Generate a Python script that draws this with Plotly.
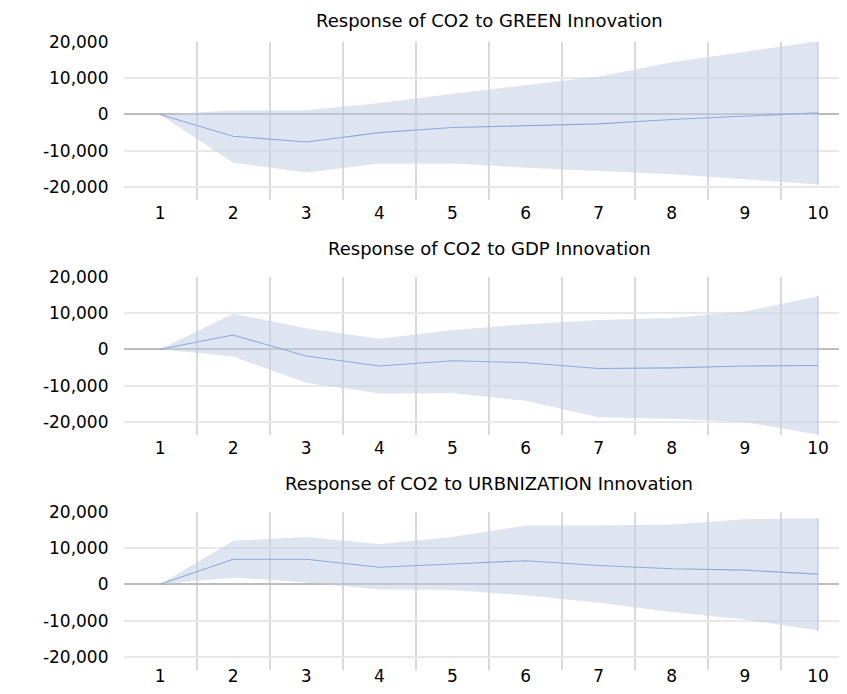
import plotly.graph_objects as go

periods = [1, 2, 3, 4, 5, 6, 7, 8, 9, 10]

titles = [
    "Response of CO2 to GREEN Innovation",
    "Response of CO2 to GDP Innovation",
    "Response of CO2 to URBNIZATION Innovation",
]

green_resp = [0, -6000, -7600, -5000, -3600, -3200, -2600, -1400, -450, 470]
green_upper = [0, 1100, 1200, 3200, 5700, 8000, 10500, 14400, 17400, 20200]
green_lower = [0, -13300, -16000, -13500, -13500, -14700, -15600, -16500, -17900, -19300]

gdp_resp = [0, 3950, -1860, -4600, -3150, -3700, -5300, -5100, -4600, -4450]
gdp_upper = [0, 9800, 5800, 2900, 5300, 6900, 8100, 8600, 10400, 14600]
gdp_lower = [0, -2000, -9200, -12200, -12000, -14200, -18700, -19100, -20000, -23500]

urb_resp = [0, 6900, 6900, 4700, 5600, 6500, 5200, 4300, 3900, 2800]
urb_upper = [0, 12000, 13000, 11100, 13000, 16200, 16200, 16500, 17900, 18200]
urb_lower = [0, 1900, 500, -1400, -1600, -3000, -5100, -7600, -9700, -12700]

y_tickvals = [-20000, -10000, 0, 10000, 20000]
y_ticktext = ["-20,000", "-10,000", "0", "10,000", "20,000"]

series = [
    (green_resp, green_upper, green_lower),
    (gdp_resp, gdp_upper, gdp_lower),
    (urb_resp, urb_upper, urb_lower),
]

# page body has an 8px margin: figure drawn at (8, 8) inside the 847x694 window
OFF = 8
W, H = 847 - 2 * OFF, 694 - 2 * OFF
# screen pixel extents (top, bottom) of each plot area
panels_px = [(42, 200), (276.7, 435), (511.7, 670)]
title_px = [15, 248.5, 483.5]
xlabel_standoff = [1, 1, -6]
x_left_px = 123.5
x_unit_px = 73.1
TITLE_SIZE = 18

FILL = "rgba(196,206,230,0.55)"
EDGE = "rgba(160,184,228,0.6)"
LINE = "#8eaadb"
FONT = "DejaVu Sans"

fig = go.Figure()
layout = dict(
    width=W, height=H,
    margin=dict(l=0, r=0, t=0, b=0, autoexpand=False),
    paper_bgcolor="white", plot_bgcolor="white",
    showlegend=False,
    font=dict(family=FONT, color="#000000"),
    annotations=[],
)

x_hi = 0.5 + (W + OFF - x_left_px) / x_unit_px

for i, ((resp, up, lo), title) in enumerate(zip(series, titles)):
    n = "" if i == 0 else str(i + 1)
    xa, ya = "x" + n, "y" + n
    fig.add_trace(go.Scatter(x=periods, y=lo, mode="lines", line=dict(width=0, color=FILL),
                             xaxis=xa, yaxis=ya, hoverinfo="skip"))
    fig.add_trace(go.Scatter(x=periods, y=up, mode="lines", line=dict(width=0, color=FILL),
                             fill="tonexty", fillcolor=FILL, xaxis=xa, yaxis=ya, hoverinfo="skip"))
    # right edge of the band at the last period
    fig.add_trace(go.Scatter(x=[periods[-1], periods[-1]], y=[lo[-1], up[-1]], mode="lines",
                             line=dict(width=1.5, color=EDGE), xaxis=xa, yaxis=ya, hoverinfo="skip"))
    fig.add_trace(go.Scatter(x=periods, y=resp, mode="lines", line=dict(width=1.1, color=LINE),
                             xaxis=xa, yaxis=ya))
    top, bot = panels_px[i]
    top, bot = top - OFF, bot - OFF
    dom = [(H - bot) / H, (H - top) / H]
    layout["xaxis" + n] = dict(
        domain=[(x_left_px - OFF) / W, 1.0],
        range=[0.5, x_hi],
        anchor=ya,
        tickvals=periods,
        ticktext=[str(p) for p in periods],
        showgrid=False, zeroline=False, showline=False, ticks="",
        tickfont=dict(size=17, family=FONT, color="#000000"),
        ticklabelstandoff=xlabel_standoff[i],
        minor=dict(tickvals=[p + 0.5 for p in periods[:-1]], showgrid=True,
                   gridcolor="#d9d9d9", gridwidth=2, ticks=""),
    )
    layout["yaxis" + n] = dict(
        domain=dom,
        range=[-23600, 20000],
        anchor=xa,
        tickvals=y_tickvals, ticktext=y_ticktext,
        showgrid=True, gridcolor="#e8e8e8", gridwidth=1.5,
        zeroline=True, zerolinecolor="#bcbcbc", zerolinewidth=1.5,
        showline=False, ticks="",
        tickfont=dict(size=17, family=FONT, color="#000000"),
        ticklabelstandoff=14,
    )
    if i == 0:
        ty, tanchor = 1.0, "top"
    else:
        ty, tanchor = (H - (title_px[i] - OFF)) / H, "middle"
    layout["annotations"].append(dict(
        text=title, xref="paper", yref="paper",
        x=(489 - OFF) / W, y=ty,
        xanchor="center", yanchor=tanchor, showarrow=False,
        font=dict(size=TITLE_SIZE, family=FONT, color="#000000"),
    ))

fig.update_layout(**layout)
fig.write_html("out.html")
